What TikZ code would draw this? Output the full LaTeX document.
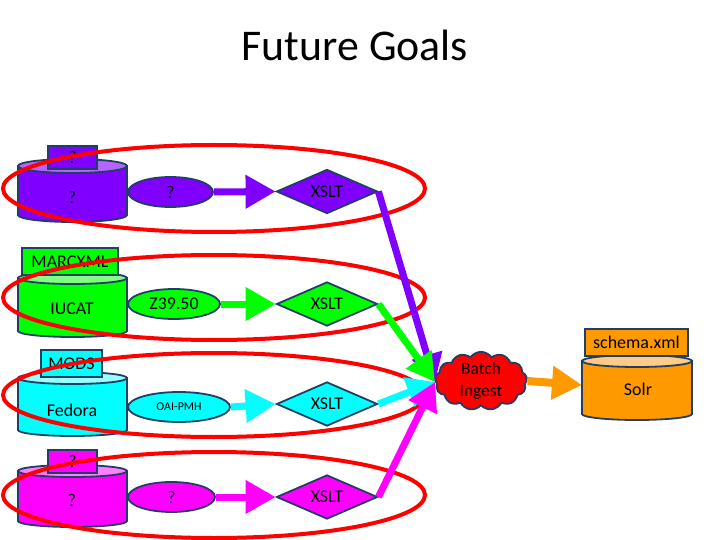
\documentclass[tikz,border=0pt]{standalone}
\usepackage{fontspec}
\setmainfont{Carlito}
\usetikzlibrary{shapes.geometric,shapes.symbols,arrows.meta}
\definecolor{bd}{HTML}{1F3F66}
\definecolor{cpur}{HTML}{8000FF}
\definecolor{cpurt}{HTML}{B266FF}
\definecolor{cgrn}{HTML}{00FF00}
\definecolor{cgrnt}{HTML}{80FF80}
\definecolor{ccya}{HTML}{00FFFF}
\definecolor{ccyat}{HTML}{99FFFF}
\definecolor{cmag}{HTML}{FF00FF}
\definecolor{cmagt}{HTML}{FF80FF}
\definecolor{corg}{HTML}{FF9900}
\definecolor{corgt}{HTML}{FFCC88}
\definecolor{cred}{HTML}{FF0000}
\newcommand\mycyl[7]{%
  \filldraw[draw=bd,line width=1.8bp,fill=#6] (#1,#3) -- (#1,#4)
    arc[start angle=180,end angle=0,x radius={(#2-#1)/2},y radius=#5] -- (#2,#3) -- cycle;
  \filldraw[draw=bd,line width=1.8bp,fill=#7] ({(#1+#2)/2},#3) ellipse[x radius={(#2-#1)/2},y radius=#5];}
\begin{document}
\begin{tikzpicture}[x=1bp,y=-1bp,
  every node/.style={text=black},
  lbl/.style={draw=bd,line width=1.8bp,rectangle,inner sep=0pt,font=\fontsize{18}{20}\selectfont},
  cyltext/.style={font=\fontsize{18}{20}\selectfont},
  proto/.style={draw=bd,line width=1.8bp,ellipse,inner sep=0pt,minimum height=30bp,font=\fontsize{18}{20}\selectfont},
  xslt/.style={draw=bd,line width=1.8bp,diamond,inner sep=0pt,minimum width=101bp,minimum height=37bp,font=\fontsize{18}{20}\selectfont},
  harrow/.style={line width=7bp,-{Triangle[length=30bp,width=32bp]}},
  darrow/.style={line width=7bp,-{Triangle[length=28bp,width=30bp]}},
  redring/.style={draw=cred,line width=4bp}]
\useasboundingbox (0,0) rectangle (720,540);
\node[font=\fontsize{44}{50}\selectfont] (title) at (355,45) {Future Goals};

% cylinders
\mycyl{18}{127}{166}{215}{7}{cpur}{cpurt}
\mycyl{18}{127}{278}{331}{6}{cgrn}{cgrnt}
\mycyl{18}{127}{378}{430}{6}{ccya}{ccyat}
\mycyl{18}{127}{471}{521}{6}{cmag}{cmagt}
\mycyl{582}{692}{361}{414}{6}{corg}{corgt}

\node[cyltext] (c1) at (72,197) {?};
\node[cyltext] (c2) at (72,309) {IUCAT};
\node[cyltext] (c3) at (72,410) {Fedora};
\node[cyltext] (c4) at (72,500) {?};
\node[cyltext] (solr) at (638,389) {Solr};
\coordinate (solrL) at (582,385);

% label boxes
\node[lbl,fill=cpur,minimum width=49bp,minimum height=23bp] (l1) at (72.5,157.5) {?};
\node[lbl,fill=cgrn,minimum width=96bp,minimum height=27bp] (l2) at (70,261.5) {MARCXML};
\node[lbl,fill=ccya,minimum width=61bp,minimum height=27bp] (l3) at (71.5,363.5) {MODS};
\node[lbl,fill=cmag,minimum width=49bp,minimum height=23bp] (l4) at (72.5,461.5) {?};
\node[lbl,fill=corg,minimum width=103bp,minimum height=27bp] (l5) at (636.5,342.5) {schema.xml};

% protocols
\node[proto,fill=cpur,minimum width=85bp] (p1) at (170.5,192) {?};
\node[proto,fill=cgrn,minimum width=92bp] (p2) at (174,304) {Z39.50};
\node[proto,fill=ccya,minimum width=102bp,font=\fontsize{12}{14}\selectfont] (p3) at (179,407) {OAI-PMH};
\node[proto,fill=cmag,minimum width=87bp] (p4) at (171.5,497) {?};

% xslt
\node[xslt,fill=cpur] (x1) at (327,191.5) {XSLT};
\node[xslt,fill=cgrn] (x2) at (327,304) {XSLT};
\node[xslt,fill=ccya] (x3) at (327,404) {XSLT};
\node[xslt,fill=cmag] (x4) at (327,497) {XSLT};

\draw[harrow,cpur] (p1.east) -- (x1.west);
\draw[harrow,cgrn] (p2.east) -- (x2.west);
\draw[harrow,ccya] (p3.east) -- (x3.west);
\draw[harrow,cmag] (p4.east) -- (x4.west);

% cloud
\node[cloud,cloud puffs=13,cloud puff arc=110,cloud ignores aspect,draw=bd,line width=1.8bp,fill=cred,
  minimum width=92bp,minimum height=57bp,inner sep=0pt,align=center,
  font=\fontsize{17.5}{22}\selectfont] (batch) at (481,381) {Batch\\Ingest};
\coordinate (tip) at (435,382);

% red rings
\draw[redring] (214,188.5) ellipse[x radius=211,y radius=43.5];
\draw[redring] (214,297.5) ellipse[x radius=211,y radius=42.5];
\draw[redring] (214,395) ellipse[x radius=211,y radius=42];
\draw[redring] (214,495) ellipse[x radius=211,y radius=43];

% diagonal arrows
\draw[darrow,cpur] (x1.east) -- (tip);
\draw[darrow,cgrn] (x2.east) -- (tip);
\draw[darrow,ccya] (x3.east) -- (tip);
\draw[darrow,cmag] (x4.east) -- (tip);

\draw[line width=8bp,corg,-{Triangle[length=30bp,width=32bp]}] (batch.east) -- (solrL);
\end{tikzpicture}
\end{document}
